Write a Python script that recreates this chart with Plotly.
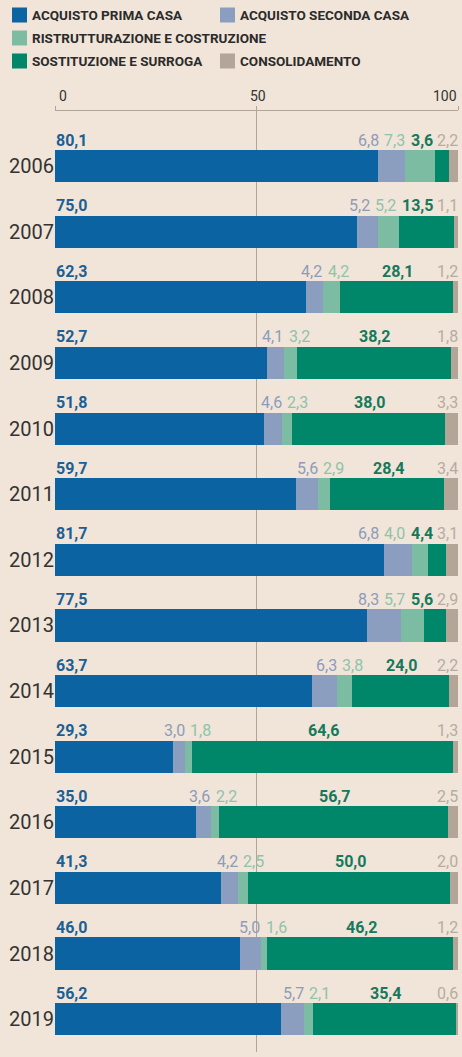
import plotly.graph_objects as go

years = ["2006", "2007", "2008", "2009", "2010", "2011", "2012",
         "2013", "2014", "2015", "2016", "2017", "2018", "2019"]
prima_casa = [80.1, 75.0, 62.3, 52.7, 51.8, 59.7, 81.7, 77.5, 63.7, 29.3, 35.0, 41.3, 46.0, 56.2]
seconda_casa = [6.8, 5.2, 4.2, 4.1, 4.6, 5.6, 6.8, 8.3, 6.3, 3.0, 3.6, 4.2, 5.0, 5.7]
ristrutturazione = [7.3, 5.2, 4.2, 3.2, 2.3, 2.9, 4.0, 5.7, 3.8, 1.8, 2.2, 2.5, 1.6, 2.1]
sostituzione = [3.6, 13.5, 28.1, 38.2, 38.0, 28.4, 4.4, 5.6, 24.0, 64.6, 56.7, 50.0, 46.2, 35.4]
consolidamento = [2.2, 1.1, 1.2, 1.8, 3.3, 3.4, 3.1, 2.9, 2.2, 1.3, 2.5, 2.0, 1.2, 0.6]

series_names = ["ACQUISTO PRIMA CASA", "ACQUISTO SECONDA CASA",
                "RISTRUTTURAZIONE E COSTRUZIONE", "SOSTITUZIONE E SURROGA",
                "CONSOLIDAMENTO"]
x_ticks = [0, 50, 100]
x_tick_labels = ["0", "50", "100"]

# styles
W, H = 462, 1057
ML, MR, MT, MB = 55, 4, 111, 5
PLOT_W = W - ML - MR
PLOT_H = H - MT - MB
BG = "#f0e5d8"
FONT = "Roboto"
bar_colors = ["#0c63a1", "#8c9ec0", "#7cbca2", "#00876a", "#b3a597"]
label_colors = ["#1c5f94", "#8e9cba", "#8fc3ab", "#17795c", "#b7aca2"]
label_bold = [True, False, False, True, False]
LFS = 16
AXIS_COL = "#b0a597"

series = [prima_casa, seconda_casa, ristrutturazione, sostituzione, consolidamento]

fig = go.Figure()
for name, vals, col in zip(series_names, series, bar_colors):
    fig.add_trace(go.Bar(
        y=years, x=vals, name=name, orientation="h",
        marker=dict(color=col, line=dict(width=0)),
        width=0.49, showlegend=False, hoverinfo="x+name",
    ))

scale = PLOT_W / 100.0  # px per unit


def tw(s, fs):
    return sum(0.22 if c == "," else 0.565 for c in s) * fs


def fmt(v):
    return f"{v:.1f}".replace(".", ",")


GAP = 5.0
for i, y in enumerate(years):
    p, s2, r, so, c = (prima_casa[i], seconda_casa[i], ristrutturazione[i],
                       sostituzione[i], consolidamento[i])
    txt = [fmt(v) for v in (p, s2, r, so, c)]
    w = [tw(t, LFS) / scale for t in txt]
    gap = GAP / scale
    cons_left = 100 - w[4]
    sost_mid = p + s2 + r + so / 2
    sost_left = min(sost_mid - w[3] / 2, cons_left - gap - w[3])
    B = p + s2
    ristr_left = min(B + 4 / scale, sost_left - gap - w[2])
    sec_left = min(B - 1 / scale, ristr_left - gap) - w[1]
    lefts = [0, sec_left, ristr_left, sost_left, cons_left]
    for k in range(5):
        t = txt[k]
        if label_bold[k]:
            t = "<b>" + t + "</b>"
        fig.add_annotation(
            x=lefts[k], y=i, xref="x", yref="y", text=t, showarrow=False,
            xanchor="left", yanchor="middle", yshift=26,
            font=dict(family=FONT, size=LFS, color=label_colors[k]),
            borderpad=0,
        )


# legend (manual)
def xp(px):
    return (px - ML) / PLOT_W


def yp(py):
    return (H - MB - py) / PLOT_H


legend_layout = [(0, 12, 15), (1, 220, 15), (2, 12, 38), (3, 12, 61), (4, 220, 61)]
for k, lx, ly in legend_layout:
    fig.add_shape(type="rect", xref="paper", yref="paper",
                  x0=xp(lx), x1=xp(lx + 15), y0=yp(ly + 7.5), y1=yp(ly - 7.5),
                  fillcolor=bar_colors[k], line=dict(width=0), layer="above")
    fig.add_annotation(xref="paper", yref="paper", x=xp(lx + 19), y=yp(ly),
                       text="<b>" + series_names[k] + "</b>", showarrow=False,
                       xanchor="left", yanchor="middle", borderpad=0,
                       font=dict(family=FONT, size=13.5, color="#2b2b2b"))

# top axis tick labels: first to the right of its tick, middle centred, last to the left
tick_anchor = ["left", "center", "right"]
tick_shift = [3, 1, 0]
for v, lab, anc, sh in zip(x_ticks, x_tick_labels, tick_anchor, tick_shift):
    fig.add_annotation(x=v, y=yp(96), xref="x", yref="paper", text=lab,
                       showarrow=False, xanchor=anc, yanchor="middle",
                       xshift=sh, borderpad=0,
                       font=dict(family=FONT, size=14, color="#333333"))

fig.update_layout(
    width=W, height=H,
    margin=dict(l=ML, r=MR, t=MT, b=MB, pad=0),
    paper_bgcolor=BG, plot_bgcolor=BG,
    barmode="stack", bargap=0,
    font=dict(family=FONT, color="#333333"),
    showlegend=False,
)
fig.update_xaxes(
    side="top", range=[0, 100], tickvals=x_ticks, showticklabels=False,
    showgrid=True, gridcolor=AXIS_COL, gridwidth=1, zeroline=False,
    showline=True, linecolor=AXIS_COL, linewidth=1,
    ticks="outside", ticklen=4, tickcolor=AXIS_COL,
    automargin=False, fixedrange=True,
)
fig.update_yaxes(
    type="category", categoryorder="array", categoryarray=years,
    range=[13.5, -0.84], autorange=False,
    showgrid=False, zeroline=False, showline=False, ticks="",
    tickfont=dict(family=FONT, size=20, color="#333333"),
    automargin=False, fixedrange=True,
)

fig.write_html(
    "out.html",
    config={"displayModeBar": False},
    post_script="document.body.style.margin='0';document.body.style.background='" + BG + "';",
)
